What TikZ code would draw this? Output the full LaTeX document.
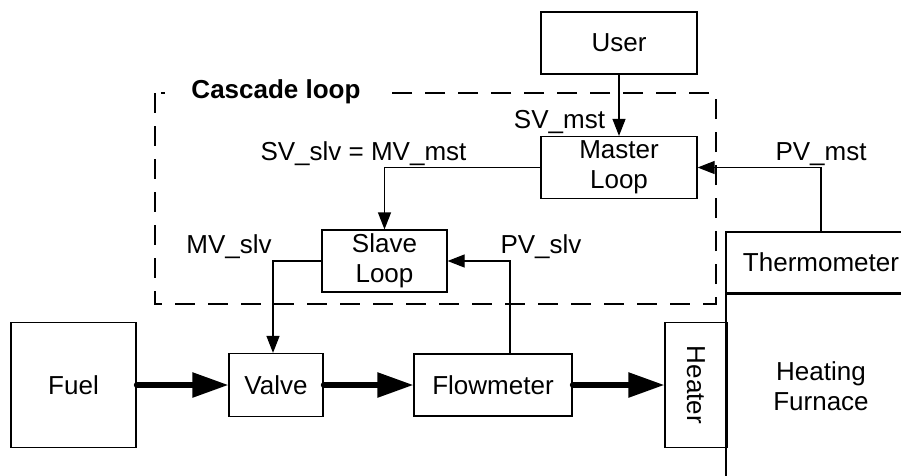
\documentclass[tikz,border=0pt]{standalone}
\usepackage{fontspec}
\setmainfont{Liberation Sans}
\usepackage{tikz}
\usetikzlibrary{
  arrows.meta,
  positioning
}
\tikzset{
  block/.style={draw,line width=1.2pt,inner sep=0pt,align=center},
  sig/.style={line width=1.2pt,-{Triangle[length=17pt,width=13pt]}},
  flow/.style={line width=5.5pt,line cap=round,-{Triangle[length=36pt,width=24pt]}},
  siglabel/.style={anchor=base,inner sep=0pt}
}

\begin{document}
\begin{tikzpicture}[x=1pt,y=-1pt,font=\fontsize{26}{30}\selectfont]
    \useasboundingbox (0,0) rectangle (901,475);
    \clip (0,0) rectangle (901,475);
    % cascade loop frame
    \draw[line width=1.2pt,dash pattern=on 20pt off 13pt] (155,93) rectangle (716,304);
    \node[fill=white,anchor=base,inner xsep=26pt,inner ysep=2pt,font=\fontsize{26}{30}\selectfont\bfseries] (title) at (276,98) {Cascade loop};
    % blocks
    \node[block,minimum width=156,minimum height=62] (user) at (619,43) {User};
    \node[block,minimum width=156,minimum height=62] (master) at (619,167.5) {Master\\Loop};
    \node[block,minimum width=125,minimum height=62] (slave) at (384.5,261) {Slave\\Loop};
    \node[block,minimum width=125,minimum height=125] (fuel) at (73.5,385) {Fuel};
    \node[block,minimum width=94,minimum height=63] (valve) at (276,385) {Valve};
    \node[block,minimum width=158,minimum height=62] (flowm) at (493,385) {Flowmeter};
    \node[block,rotate=-90,minimum width=125,minimum height=62] (heater) at (696,385) {Heater};
    \node[block,minimum width=190,minimum height=61] (thermo) at (821,262.5) {Thermometer};
    \node[block,minimum width=190,minimum height=184,anchor=north west] (furnace) at (thermo.south west) {Heating\\Furnace};
    % signals
    \draw[sig] (user) -- (master);
    \draw[sig] (master.west) -| (slave.north);
    \draw[sig] (slave.west) -| ([xshift=-3pt]valve.north);
    \draw[sig] ([xshift=17pt]flowm.north) |- (slave.east);
    \draw[sig] (thermo.north) |- (master.east);
    \node[siglabel] (svmst) at (559.5,128) {SV\_mst};
    \node[siglabel] (pvmst) at (821,160) {PV\_mst};
    \node[siglabel] (svslv) at (363.5,160) {SV\_slv = MV\_mst};
    \node[siglabel] (mvslv) at (229,253) {MV\_slv};
    \node[siglabel] (pvslv) at (541,253) {PV\_slv};
    % fuel flow
    \draw[flow] (fuel) -- (valve);
    \draw[flow] (valve) -- (flowm);
    \draw[flow] (flowm) -- (heater.south);
\end{tikzpicture}
\end{document}
